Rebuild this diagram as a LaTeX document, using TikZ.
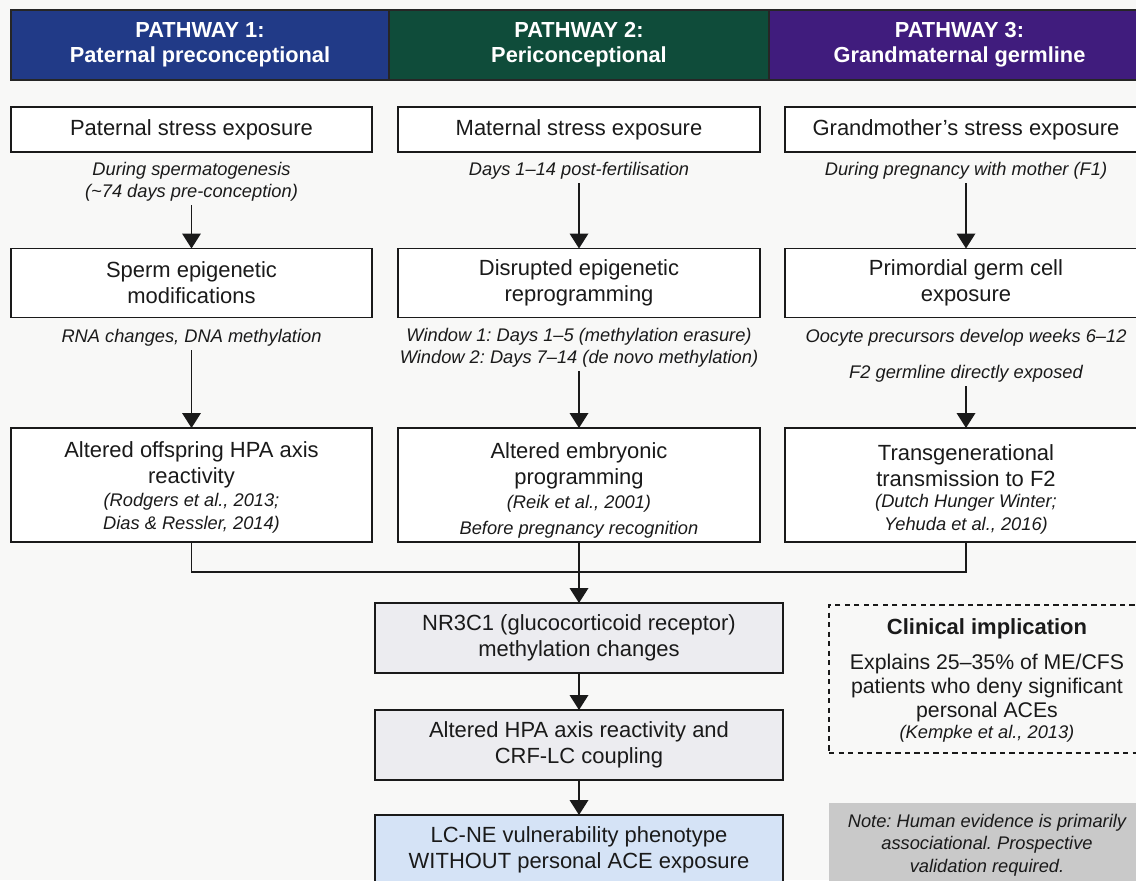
\documentclass[tikz,border=0pt]{standalone}
\usepackage{fontspec}
\setmainfont{Liberation Sans}
\usetikzlibrary{arrows.meta}
\frenchspacing
\definecolor{pblau}{HTML}{213A87}
\definecolor{pgruen}{HTML}{0F4C3A}
\definecolor{plila}{HTML}{401C7D}
\definecolor{hgrund}{HTML}{F8F8F7}
\definecolor{kgrau}{HTML}{ECECF0}
\definecolor{kblau}{HTML}{D5E3F6}
\definecolor{ngrau}{HTML}{C9C9C9}
\definecolor{tinte}{HTML}{1A1A1A}
\tikzset{
  kopf/.style={draw=black!85,line width=1pt,text=white,font=\fontsize{12.4}{14.2}\selectfont\bfseries,align=center,minimum height=1.4cm,inner sep=0pt,outer sep=0pt},
  box/.style={draw=tinte,fill=white,line width=1.1pt,text=tinte,font=\fontsize{12.5}{14.7}\selectfont,align=center,inner sep=0pt,outer sep=0pt},
  txt/.style={text=tinte,font=\fontsize{12.5}{14.7}\selectfont,align=center,inner sep=0pt},
  notiz/.style={text=tinte,font=\fontsize{10.4}{12.6}\selectfont\itshape,align=center,inner sep=2pt},
  pfeil/.style={-{Triangle[length=3mm,width=3.7mm]},tinte,line width=1.1pt},
  linie/.style={tinte,line width=1.1pt},
}

\begin{document}
\begin{tikzpicture}[x=0.02cm,y=-0.02cm]
  \useasboundingbox (0,0) rectangle (1136,880);
  \clip (0,0) rectangle (1136,880);
  \fill[hgrund] (0,0) rectangle (1136,880);
  % Kopfzeile
  \node[kopf,fill=pblau,minimum width=7.56cm] (k1) at (200,45) {PATHWAY 1:\\Paternal preconceptional};
  \node[kopf,fill=pgruen,minimum width=7.6cm] (k2) at (579,45) {PATHWAY 2:\\Periconceptional};
  \node[kopf,fill=plila,minimum width=7.62cm] (k3) at (959.5,45) {PATHWAY 3:\\Grandmaternal germline};
  % Exposition
  \node[box,minimum width=7.22cm,minimum height=0.9cm] (e1) at (191.5,129.5) {Paternal stress exposure};
  \node[box,minimum width=7.24cm,minimum height=0.9cm] (e2) at (579,129.5) {Maternal stress exposure};
  \node[box,minimum width=7.24cm,minimum height=0.9cm] (e3) at (966,129.5) {Grandmother’s stress exposure};
  \node[notiz] (n1) at (191.5,182) {During spermatogenesis\\(\textasciitilde74 days pre-conception)};
  \node[notiz] (n2) at (579,171) {Days 1–14 post-fertilisation};
  \node[notiz] (n3) at (966,171) {During pregnancy with mother (F1)};
  % Mechanismus
  \node[box,minimum width=7.22cm,minimum height=1.38cm] (m1) at (191.5,283) {Sperm epigenetic\\modifications};
  \node[box,minimum width=7.24cm,minimum height=1.38cm] (m2) at (579,283) {Disrupted epigenetic\\reprogramming};
  \node[box,minimum width=7.24cm,minimum height=1.38cm] (m3) at (966,283) {Primordial germ cell\\exposure};
  \node[notiz] (o1) at (191.5,338) {RNA changes, DNA methylation};
  \node[notiz] (o2) at (579,348) {Window 1: Days 1–5 (methylation erasure)\\Window 2: Days 7–14 (de novo methylation)};
  \node[notiz] (o3) at (966,338) {Oocyte precursors develop weeks 6–12};
  \node[notiz] (o3b) at (966,374) {F2 germline directly exposed};
  % Folgen
  \node[box,minimum width=7.22cm,minimum height=2.28cm] (a1) at (191.5,485) {};
  \node[box,minimum width=7.24cm,minimum height=2.28cm] (a2) at (579,485) {};
  \node[box,minimum width=7.24cm,minimum height=2.28cm] (a3) at (966,485) {};
  \node[txt] (a1t) at (191.5,465) {Altered offspring HPA axis\\reactivity};
  \node[notiz,font=\fontsize{10.4}{13}\selectfont\itshape] (a1c) at (191.5,513) {(Rodgers et al., 2013;\\Dias \& Ressler, 2014)};
  \node[txt] (a2t) at (579,466) {Altered embryonic\\programming};
  \node[notiz] (a2c) at (579,504) {(Reik et al., 2001)};
  \node[notiz] (a2d) at (579,530) {Before pregnancy recognition};
  \node[txt] (a3t) at (966,466) {Transgenerational\\transmission to F2};
  \node[notiz,font=\fontsize{10.4}{13}\selectfont\itshape] (a3c) at (966,514) {(Dutch Hunger Winter;\\Yehuda et al., 2016)};
  % gemeinsamer Pfad
  \node[box,fill=kgrau,minimum width=8.16cm,minimum height=1.4cm] (nr) at (579,638) {NR3C1 (glucocorticoid receptor)\\methylation changes};
  \node[box,fill=kgrau,minimum width=8.16cm,minimum height=1.4cm] (hpa) at (579,745) {Altered HPA axis reactivity and\\CRF-LC coupling};
  \node[box,fill=kblau,minimum width=8.16cm,minimum height=1.4cm] (lc) at (579,850) {LC-NE vulnerability phenotype\\WITHOUT personal ACE exposure};
  % Kasten rechts
  \node[box,dashed,dash pattern=on 3pt off 2.4pt,fill=hgrund,minimum width=6.32cm,minimum height=2.96cm] (klin) at (987,679) {};
  \node[txt,font=\fontsize{12.5}{14.7}\selectfont\bfseries] (klint) at (987,629) {Clinical implication};
  \node[txt,font=\fontsize{12.1}{13.7}\selectfont] (klinb) at (987,688) {Explains 25–35\% of ME/CFS\\patients who deny significant\\personal ACEs};
  \node[notiz] (klinc) at (987,734) {(Kempke et al., 2013)};
  \node[notiz,fill=ngrau,minimum width=6.34cm,minimum height=1.68cm,font=\fontsize{10.4}{12.8}\selectfont\itshape] (hinweis) at (987,845) {Note: Human evidence is primarily\\associational. Prospective\\validation required.};
  % Pfeile
  \draw[pfeil] (n1.south) -- (m1.north);
  \draw[pfeil] (n2.south) -- (m2.north);
  \draw[pfeil] (n3.south) -- (m3.north);
  \draw[pfeil] (o1.south) -- (a1.north);
  \draw[pfeil] (o2.south) -- (a2.north);
  \draw[pfeil] (o3b.south) -- (a3.north);
  \coordinate (sammel) at (579,572);
  \draw[linie] (a1.south) |- (sammel) -| (a3.south);
  \draw[pfeil] (a2.south) -- (nr.north);
  \draw[pfeil] (nr.south) -- (hpa.north);
  \draw[pfeil] (hpa.south) -- (lc.north);
\end{tikzpicture}
\end{document}
